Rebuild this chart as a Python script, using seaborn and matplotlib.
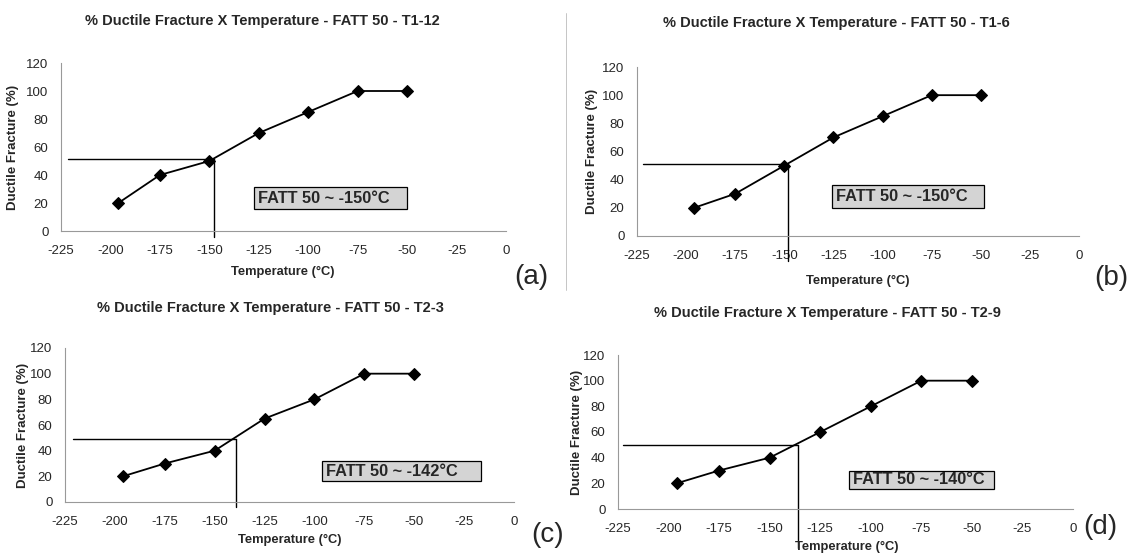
import matplotlib
matplotlib.use("Agg")
import matplotlib.pyplot as plt
from matplotlib.patches import Rectangle
import seaborn as sns
import pandas as pd

sns.set_style("white")
plt.rcParams['font.family'] = ['Liberation Sans', 'DejaVu Sans']
plt.rcParams['axes.unicode_minus'] = False

temperature = [-196, -175, -150, -125, -100, -75, -50]
ductile_t1_12 = [20, 40, 50, 70, 85, 100, 100]
ductile_t1_6 = [20, 30, 50, 70, 85, 100, 100]
ductile_t2_3 = [20, 30, 40, 65, 80, 100, 100]
ductile_t2_9 = [20, 30, 40, 60, 80, 100, 100]

titles = ["% Ductile Fracture X Temperature - FATT 50 - T1-12",
          "% Ductile Fracture X Temperature - FATT 50 - T1-6",
          "% Ductile Fracture X Temperature - FATT 50 - T2-3",
          "% Ductile Fracture X Temperature - FATT 50 - T2-9"]
fatt_labels = ["FATT 50 ~ -150°C", "FATT 50 ~ -150°C", "FATT 50 ~ -142°C", "FATT 50 ~ -140°C"]
fatt_x = [-147.6, -148.1, -139.3, -136.1]
fatt_y = [51.4, 51.1, 48.8, 49.9]
panel_letters = ["(a)", "(b)", "(c)", "(d)"]
x_ticks = [-225, -200, -175, -150, -125, -100, -75, -50, -25, 0]
y_ticks = [0, 20, 40, 60, 80, 100, 120]

series = [ductile_t1_12, ductile_t1_6, ductile_t2_3, ductile_t2_9]

W, H = 1135, 555
fig = plt.figure(figsize=(W / 100, H / 100), dpi=100)

# layout (pixels): axes left, top(y=120), right, bottom(y=0)
rects = [(61, 63, 506, 231), (637, 67, 1079, 236), (65, 348, 514, 502), (618, 355, 1073, 509)]
# annotation boxes in data coords: x0, x1, y0, y1
boxes = [(-127.4, -50.1, 15.6, 31.3), (-125.7, -48.3, 19.7, 36.0),
         (-96.2, -16.6, 16.2, 32.1), (-110.8, -39.1, 15.6, 29.6)]
hline_start = [-221.5, -222, -221, -222.7]
vline_end = [-4, -18, -4, -30]
title_pos = [(262, 21), (836, 23), (270, 308), (827, 313)]
xlabel_pos = [(283, 272), (858, 281), (290, 540), (847, 547)]
ylabel_x = [13, 592, 23, 577]
letter_pos = [(531, 277), (1111, 278), (548, 535), (1100, 527)]

for i in range(4):
    l, t, r, b = rects[i]
    ax = fig.add_axes([l / W, 1 - b / H, (r - l) / W, (b - t) / H])
    df = pd.DataFrame({"Temperature": temperature, "Ductile": series[i]})
    sns.lineplot(data=df, x="Temperature", y="Ductile", ax=ax, color="black",
                 marker="D", markersize=6, linewidth=1.3, markeredgecolor="black", zorder=5)
    ax.set_xlim(-225, 0)
    ax.set_ylim(0, 120)
    ax.set_xticks(x_ticks)
    ax.set_yticks(y_ticks)
    ax.tick_params(axis="both", labelsize=9.5, length=3, width=0.6, color="#888888",
                   direction="out")
    ax.tick_params(axis="x", pad=7)
    ax.tick_params(axis="y", pad=6)
    for s in ["top", "right"]:
        ax.spines[s].set_visible(False)
    for s in ["left", "bottom"]:
        ax.spines[s].set_color("#999999")
        ax.spines[s].set_linewidth(0.8)
    ax.set_xlabel("")
    ax.set_ylabel("")
    # reference lines
    ax.plot([hline_start[i], fatt_x[i]], [fatt_y[i], fatt_y[i]], color="black", linewidth=1.0)
    ax.plot([fatt_x[i], fatt_x[i]], [fatt_y[i], vline_end[i]], color="black", linewidth=1.0,
            clip_on=False)
    x0, x1, y0, y1 = boxes[i]
    ax.add_patch(Rectangle((x0, y0), x1 - x0, y1 - y0, facecolor="#d4d4d4",
                           edgecolor="black", linewidth=0.9, zorder=3))
    ax.text(x0 + 2, (y0 + y1) / 2, fatt_labels[i], fontsize=11.8, fontweight="bold",
            ha="left", va="center", zorder=4)
    tx, ty = title_pos[i]
    fig.text(tx / W, 1 - ty / H, titles[i], fontsize=10.5, fontweight="bold",
             ha="center", va="center")
    xx, xy = xlabel_pos[i]
    fig.text(xx / W, 1 - xy / H, "Temperature (°C)", fontsize=9.3, fontweight="bold",
             ha="center", va="center")
    fig.text(ylabel_x[i] / W, 1 - ((t + b) / 2) / H, "Ductile Fracture (%)", fontsize=9.5,
             fontweight="bold", ha="center", va="center", rotation=90)
    lx, ly = letter_pos[i]
    fig.text(lx / W, 1 - ly / H, panel_letters[i], fontsize=20, ha="center", va="center")

# separator line between top panels
fig.add_artist(plt.Line2D([566 / W, 566 / W], [1 - 13 / H, 1 - 290 / H], color="#bbbbbb", linewidth=0.6))

fig.savefig("out.png", dpi=100)
